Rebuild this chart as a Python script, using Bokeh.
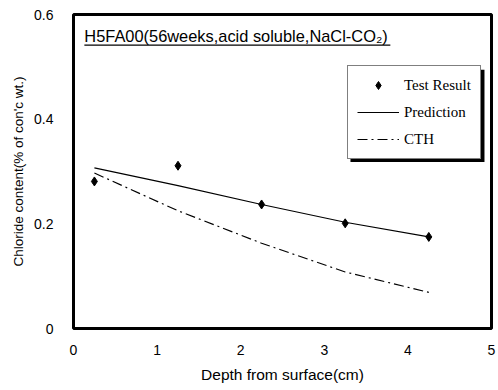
from bokeh.plotting import figure
from bokeh.models import (Legend, LegendItem, FixedTicker, CustomJSTickFormatter,
                          Label, BoxAnnotation, Range1d)
from bokeh.embed import file_html
from bokeh.resources import INLINE

# ---- data ----
depth = [0.25, 1.25, 2.25, 3.25, 4.25]
test_result = [0.281, 0.311, 0.237, 0.201, 0.175]
prediction = [0.307, 0.273, 0.237, 0.203, 0.175]
cth = [0.297, 0.225, 0.163, 0.108, 0.069]
x_ticks = [0, 1, 2, 3, 4, 5]
y_ticks = [0, 0.2, 0.4, 0.6]
title_text = "H5FA00(56weeks,acid soluble,NaCl-CO\u2082)"

p = figure(width=496, height=388, output_backend="svg", toolbar_location=None,
           x_range=Range1d(0, 5), y_range=Range1d(0, 0.6),
           min_border_left=73, min_border_right=5, min_border_top=14,
           min_border_bottom=60)
p.background_fill_color = "white"
p.border_fill_color = "white"
p.xgrid.visible = False
p.ygrid.visible = False
p.outline_line_color = "black"
p.outline_line_width = 3

SANS = "Liberation Sans"
for ax in (p.xaxis[0], p.yaxis[0]):
    ax.axis_line_color = None
    ax.major_tick_line_color = None
    ax.minor_tick_line_color = None
    ax.major_tick_out = 0
    ax.major_tick_in = 0
    ax.major_label_text_font = SANS
    ax.major_label_text_font_size = "14px"
    ax.major_label_text_color = "black"
    ax.axis_label_text_font = SANS
    ax.axis_label_text_font_style = "normal"
    ax.axis_label_text_color = "black"

p.xaxis.ticker = FixedTicker(ticks=x_ticks)
p.yaxis.ticker = FixedTicker(ticks=y_ticks)
p.yaxis.formatter = CustomJSTickFormatter(code="return tick == 0 ? '0' : tick.toFixed(1);")
p.xaxis.major_label_standoff = 16
p.yaxis.major_label_standoff = 20
p.xaxis.axis_label = "Depth from surface(cm)"
p.yaxis.axis_label = "Chloride content(% of con'c wt.)"
p.xaxis.axis_label_text_font_size = "15.5px"
p.yaxis.axis_label_text_font_size = "13.5px"
p.xaxis.axis_label_standoff = 8
p.yaxis.axis_label_standoff = 5

r_pred = p.line(depth, prediction, line_color="black", line_width=1.2)
r_cth = p.line(depth, cth, line_color="black", line_width=1.2, line_dash="10 4 2 4")
r_test = p.scatter(depth, test_result, marker="diamond", size=9,
                   fill_color="black", line_color="black")

# chart caption inside plot, underlined
p.add_layout(Label(x=0.13, y=0.558, text=title_text, text_font=SANS,
                   text_font_size="16.4px", text_baseline="middle", text_color="black"))
p.add_layout(BoxAnnotation(left=0.13, right=3.79, bottom=0.5405, top=0.5425,
                           fill_color="black", fill_alpha=1, line_color=None))

# legend shadow
p.add_layout(BoxAnnotation(left=3.313, right=4.916, bottom=0.318, top=0.4945,
                           fill_color="black", fill_alpha=1, line_color=None))

legend = Legend(items=[LegendItem(label="Test Result", renderers=[r_test]),
                       LegendItem(label="Prediction", renderers=[r_pred]),
                       LegendItem(label="CTH", renderers=[r_cth])],
                location=(274, 169))
legend.label_text_font = "Liberation Serif"
legend.label_text_font_size = "15px"
legend.label_text_color = "black"
legend.glyph_width = 42
legend.glyph_height = 20
legend.label_height = 20
legend.label_standoff = 5
legend.spacing = 7
legend.padding = 9
legend.margin = 0
legend.border_line_color = "black"
legend.border_line_width = 1
legend.background_fill_color = "white"
legend.background_fill_alpha = 1
p.add_layout(legend)

open("out.html", "w").write(file_html(p, INLINE))
